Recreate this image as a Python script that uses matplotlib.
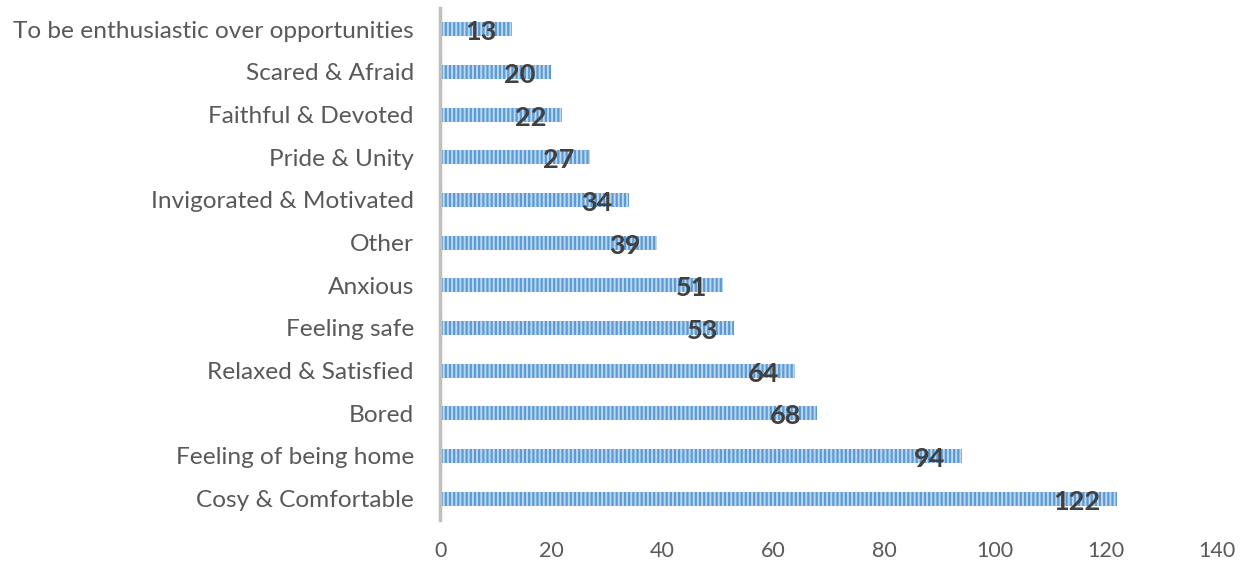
import matplotlib.pyplot as plt
from matplotlib.transforms import offset_copy

plt.rcParams['font.family'] = ['Lato', 'DejaVu Sans']
plt.rcParams['hatch.color'] = '#BDD7EE'
plt.rcParams['hatch.linewidth'] = 1.4

# data, bottom to top
categories = ["Cosy & Comfortable", "Feeling of being home", "Bored",
              "Relaxed & Satisfied", "Feeling safe", "Anxious", "Other",
              "Invigorated & Motivated", "Pride & Unity", "Faithful & Devoted",
              "Scared & Afraid", "To be enthusiastic over opportunities"]
values = [122, 94, 68, 64, 53, 51, 39, 34, 27, 22, 20, 13]
xticks = [0, 20, 40, 60, 80, 100, 120, 140]

fig = plt.figure(figsize=(12.44, 5.63), dpi=100)
ax = fig.add_axes([0.354, 0.0764, 0.624, 0.9096])

ypos = list(range(len(categories)))
ax.barh(ypos, values, height=0.33, color='#5B9BD5', edgecolor='#BDD7EE',
        linewidth=0, hatch='||||')

trans = offset_copy(ax.transData, fig=fig, x=-16, y=-3, units='dots')
for y, v in zip(ypos, values):
    ax.text(v, y, str(v), transform=trans, ha='right', va='center',
            fontsize=19.5, fontweight='bold', color='#404040')

ax.set_xlim(0, 140)
ax.set_ylim(-0.5, len(categories) - 0.5)
ax.set_yticks(ypos)
ax.set_yticklabels(categories, fontsize=17.6, color='#595959')
ax.set_xticks(xticks)
ax.set_xticklabels([str(t) for t in xticks], fontsize=15.5, color='#595959')
ax.tick_params(axis='both', length=0)
ax.tick_params(axis='y', pad=19)
ax.tick_params(axis='x', pad=15)

for s in ['top', 'right', 'bottom']:
    ax.spines[s].set_visible(False)
ax.spines['left'].set_color('#BFBFBF')
ax.spines['left'].set_linewidth(2.5)

fig.savefig('out.png', dpi=100)
